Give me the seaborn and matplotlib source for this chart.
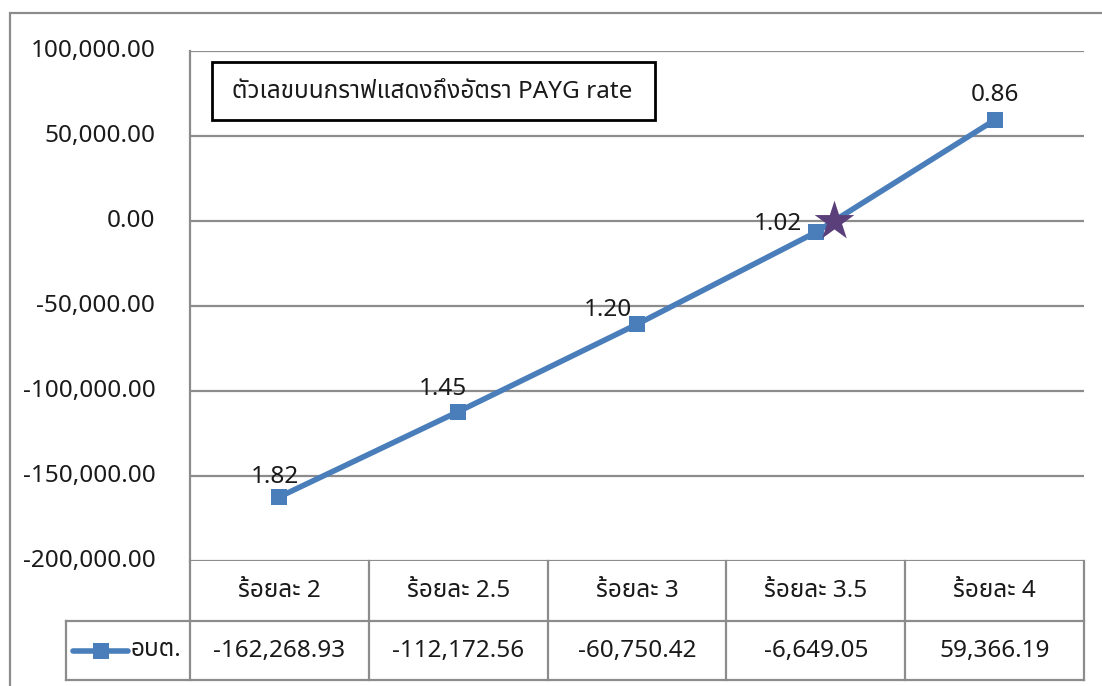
import matplotlib
matplotlib.use("Agg")
import matplotlib.pyplot as plt
from matplotlib.patches import Rectangle
from matplotlib.lines import Line2D
import numpy as np
import pandas as pd
import seaborn as sns

# ---- data -------------------------------------------------------------
categories = ["ร้อยละ 2", "ร้อยละ 2.5", "ร้อยละ 3", "ร้อยละ 3.5", "ร้อยละ 4"]
series_name = "อบต."
values = [-162268.93, -112172.56, -60750.42, -6649.05, 59366.19]
payg_rates = ["1.82", "1.45", "1.20", "1.02", "0.86"]
note_text = "ตัวเลขบนกราฟแสดงถึงอัตรา PAYG rate"
y_ticks = [100000, 50000, 0, -50000, -100000, -150000, -200000]

# ---- style ------------------------------------------------------------
sns.set_theme(style="white")
plt.rcParams["font.family"] = ["Noto Sans Thai", "Noto Sans", "DejaVu Sans"]
plt.rcParams["font.weight"] = "light"
LINE = "#4A7EBB"
GRID = "#8C8C8C"
STAR = "#5B3F7A"
TXT = "#1a1a1a"
FS = 17.5

W, H = 1102, 686
fig = plt.figure(figsize=(W / 100, H / 100), dpi=100)


def fx(px):
    return px / W


def fy(py):
    return 1 - py / H


# outer chart frame
fig.patches.append(Rectangle((fx(10), fy(700)), fx(1110) - fx(10), fy(13) - fy(700),
                             transform=fig.transFigure, fill=False,
                             edgecolor=GRID, lw=1.6))

# plot area
PL, PR, PT, PB = 190, 1084, 51, 561
ax = fig.add_axes([fx(PL), fy(PB), fx(PR) - fx(PL), fy(PT) - fy(PB)])
df = pd.DataFrame({"pos": np.arange(len(categories)), "value": values})
sns.lineplot(data=df, x="pos", y="value", ax=ax, color=LINE, lw=4,
             marker="s", markersize=12, markeredgewidth=0, zorder=3)
ax.set_xlim(-0.5, len(categories) - 0.5)
ax.set_ylim(min(y_ticks), max(y_ticks))
ax.set_yticks(y_ticks)
ax.set_yticklabels([f"{t:,.2f}" for t in y_ticks], fontsize=FS, color=TXT)
for lab in ax.get_yticklabels():
    lab.set_verticalalignment("center")
ax.tick_params(axis="y", length=0, pad=25)
ax.set_xticks([])
ax.set_xlabel("")
ax.set_ylabel("")
for t in y_ticks:
    ax.axhline(t, color=GRID, lw=1.6, zorder=1)
for s in ["top", "right", "bottom"]:
    ax.spines[s].set_visible(False)
ax.spines["left"].set_color(GRID)
ax.spines["left"].set_linewidth(1.6)

# star where the series crosses zero
i = next(k for k in range(len(values) - 1) if values[k] < 0 <= values[k + 1])
x0 = i + (0 - values[i]) / (values[i + 1] - values[i])
ax.scatter([x0], [0], marker="*", s=900, color=STAR, zorder=4, linewidths=0)

# PAYG rate labels
label_offsets = [(-3, 14), (-11, 16), (-21, 10), (-27, 6), (0, 18)]
for k, (lab, off) in enumerate(zip(payg_rates, label_offsets)):
    ax.annotate(lab, (k, values[k]), xytext=off, textcoords="offset points",
                ha="center", va="center", fontsize=FS, color=TXT)

# note box
ax.text(fx(232), fy(92), note_text, transform=fig.transFigure, fontsize=FS,
        ha="left", va="center", color=TXT)
fig.patches.append(Rectangle((fx(212), fy(120)), fx(655) - fx(212), fy(62) - fy(120),
                             transform=fig.transFigure, fill=False,
                             edgecolor="black", lw=2, zorder=5))

# ---- data table under the plot ----------------------------------------
TL, ROW_MID, TB = 66, 621, 680
tab = fig.add_axes([fx(PL), fy(TB), fx(PR) - fx(PL), fy(PB) - fy(TB)])
tab.set_xlim(-0.5, len(categories) - 0.5)
tab.set_ylim(0, 1)
tab.axis("off")
col_w = (PR - PL) / len(categories)
key_left = -0.5 - (PL - TL) / col_w
mid = (TB - ROW_MID) / (TB - PB)
kw = dict(color=GRID, lw=1.6, clip_on=False, solid_capstyle="projecting")
for k in range(len(categories) + 1):
    tab.plot([k - 0.5, k - 0.5], [0, 1], **kw)
tab.plot([key_left, key_left], [0, mid], **kw)
tab.plot([key_left, len(categories) - 0.5], [mid, mid], **kw)
tab.plot([key_left, len(categories) - 0.5], [0, 0], **kw)
for k, (c, v) in enumerate(zip(categories, values)):
    tab.text(k, (1 + mid) / 2, c, ha="center", va="center", fontsize=FS, color=TXT)
    tab.text(k, mid / 2, f"{v:,.2f}", ha="center", va="center", fontsize=FS, color=TXT)

# legend key in the first cell
kx0 = key_left + (73 - TL) / col_w
kx1 = key_left + (128 - TL) / col_w
tab.add_line(Line2D([kx0, kx1], [mid / 2, mid / 2], color=LINE, lw=4,
                    solid_capstyle="round", clip_on=False))
tab.add_line(Line2D([(kx0 + kx1) / 2], [mid / 2], color=LINE, marker="s",
                    markersize=12, markeredgewidth=0, clip_on=False))
tab.text(key_left + (131 - TL) / col_w, mid / 2, series_name, ha="left", va="center",
         fontsize=FS, color=TXT)

fig.savefig("out.png", dpi=100)
